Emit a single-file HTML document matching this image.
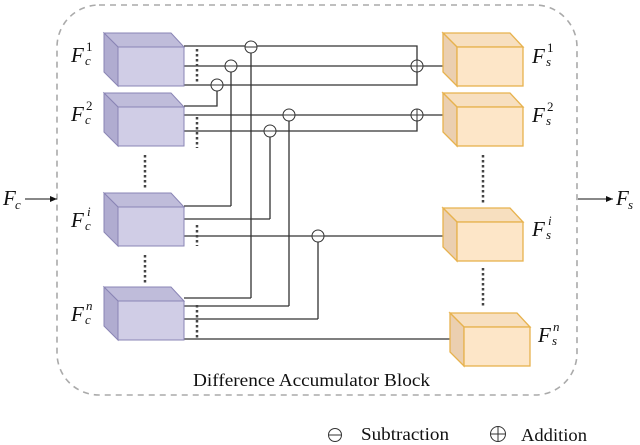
<!DOCTYPE html>
<html><head><meta charset="utf-8"><style>
html,body{margin:0;padding:0;background:#fff;}
svg{display:block;}
text{font-family:"Liberation Serif",serif;fill:#111;}
.f{font-style:italic;font-size:21px;}
.sup{font-size:13px;}
.sub{font-size:13px;font-style:italic;}
</style></head><body>
<svg width="640" height="445" viewBox="0 0 640 445" xmlns="http://www.w3.org/2000/svg">
<defs>
<marker id="ar" markerWidth="8" markerHeight="8" refX="7" refY="4" orient="auto" markerUnits="userSpaceOnUse"><path d="M0,1 L7,4 L0,7 z" fill="#111"/></marker>
</defs>
<rect x="57" y="5" width="520" height="390" rx="42" fill="none" stroke="#aaa" stroke-width="1.6" stroke-dasharray="6,5"/>
<line x1="25" y1="199" x2="57" y2="199" stroke="#111" stroke-width="1" marker-end="url(#ar)"/>
<line x1="578" y1="199" x2="613" y2="199" stroke="#111" stroke-width="1" marker-end="url(#ar)"/>
<text x="3" y="205" class="f">F</text><text x="15" y="209" class="sub">c</text>
<text x="616" y="205" class="f">F</text><text x="628" y="209" class="sub">s</text>

<g fill="none" stroke="#333" stroke-width="1.3">
<polyline points="184,46 417,46 417,60"/>
<line x1="184" y1="66" x2="443" y2="66"/>
<polyline points="184,85 417,85 417,72"/>
<polyline points="184,106 217,106 217,91"/>
<line x1="251" y1="53" x2="251" y2="298"/><line x1="184" y1="298" x2="251" y2="298"/>
<line x1="231" y1="72" x2="231" y2="206"/><line x1="184" y1="206" x2="231" y2="206"/>
<line x1="184" y1="115" x2="443" y2="115"/>
<polyline points="184,131 417,131 417,121"/>
<line x1="289" y1="121" x2="289" y2="306"/><line x1="184" y1="306" x2="289" y2="306"/>
<line x1="270" y1="137" x2="270" y2="219"/><line x1="184" y1="219" x2="270" y2="219"/>
<line x1="184" y1="236" x2="443" y2="236"/>
<line x1="318" y1="242" x2="318" y2="319"/><line x1="184" y1="319" x2="318" y2="319"/>
<line x1="184" y1="339" x2="450" y2="339"/>
</g>
<g fill="#fff" stroke="#333" stroke-width="1">
<circle cx="251" cy="47" r="6"/><line x1="245" y1="47" x2="257" y2="47"/>
<circle cx="231" cy="66" r="6"/><line x1="225" y1="66" x2="237" y2="66"/>
<circle cx="217" cy="85" r="6"/><line x1="211" y1="85" x2="223" y2="85"/>
<circle cx="289" cy="115" r="6"/><line x1="283" y1="115" x2="295" y2="115"/>
<circle cx="270" cy="131" r="6"/><line x1="264" y1="131" x2="276" y2="131"/>
<circle cx="318" cy="236" r="6"/><line x1="312" y1="236" x2="324" y2="236"/>
<circle cx="417" cy="66" r="6"/><line x1="411" y1="66" x2="423" y2="66"/><line x1="417" y1="60" x2="417" y2="72"/>
<circle cx="417" cy="115" r="6"/><line x1="411" y1="115" x2="423" y2="115"/><line x1="417" y1="109" x2="417" y2="121"/>
</g>
<g stroke="#444" stroke-width="2.5" stroke-dasharray="2.5,2.5" fill="none">
<line x1="197" y1="49" x2="197" y2="83"/>
<line x1="197" y1="117" x2="197" y2="148"/>
<line x1="197" y1="225" x2="197" y2="246"/>
<line x1="197" y1="305" x2="197" y2="339"/>
<line x1="145" y1="155" x2="145" y2="190"/>
<line x1="145" y1="255" x2="145" y2="285"/>
<line x1="483" y1="155" x2="483" y2="205"/>
<line x1="483" y1="268" x2="483" y2="306"/>
</g>
<g stroke="#8a85b5" stroke-width="1">
<g id="pc">
<polygon points="104,33 171,33 184,47 118,47" fill="#bfbcda"/>
<polygon points="104,33 118,47 118,86 104,72" fill="#b0acd0"/>
<rect x="118" y="47" width="66" height="39" fill="#d0cde6"/>
</g>
<use href="#pc" y="60"/>
<use href="#pc" y="160"/>
<use href="#pc" y="254"/>
</g>
<g stroke="#e7b24e" stroke-width="1.3">
<g id="oc">
<polygon points="443,33 510,33 523,47 457,47" fill="#f7dfbf"/>
<polygon points="443,33 457,47 457,86 443,72" fill="#ebcfb0"/>
<rect x="457" y="47" width="66" height="39" fill="#fde6c8"/>
</g>
<use href="#oc" y="60"/>
<use href="#oc" y="175"/>
<use href="#oc" x="7" y="280"/>
</g>
<g>
<text x="71" y="62" class="f">F</text><text x="85" y="65" class="sub">c</text><text x="86" y="51" class="sup">1</text>
<text x="71" y="121" class="f">F</text><text x="85" y="124" class="sub">c</text><text x="86" y="110" class="sup">2</text>
<text x="71" y="227" class="f">F</text><text x="85" y="230" class="sub">c</text><text x="87" y="216" class="sub">i</text>
<text x="71" y="321" class="f">F</text><text x="85" y="324" class="sub">c</text><text x="86" y="310" class="sub">n</text>
<text x="532" y="63" class="f">F</text><text x="546" y="66" class="sub">s</text><text x="547" y="52" class="sup">1</text>
<text x="532" y="122" class="f">F</text><text x="546" y="125" class="sub">s</text><text x="547" y="111" class="sup">2</text>
<text x="532" y="236" class="f">F</text><text x="546" y="239" class="sub">s</text><text x="548" y="225" class="sub">i</text>
<text x="538" y="342" class="f">F</text><text x="552" y="345" class="sub">s</text><text x="553" y="331" class="sub">n</text>
</g>
<text x="193" y="386" font-size="17.5" textLength="237" lengthAdjust="spacingAndGlyphs">Difference Accumulator Block</text>
<g fill="none" stroke="#333" stroke-width="1">
<circle cx="335" cy="435" r="6.5"/><line x1="328.5" y1="435" x2="341.5" y2="435"/>
<circle cx="498" cy="434" r="7.5"/><line x1="490.5" y1="434" x2="505.5" y2="434"/><line x1="498" y1="426.5" x2="498" y2="441.5"/>
</g>
<text x="361" y="440" font-size="17.5" textLength="88" lengthAdjust="spacingAndGlyphs">Subtraction</text>
<text x="521" y="441" font-size="17.5" textLength="66" lengthAdjust="spacingAndGlyphs">Addition</text>
</svg>
</body></html>
